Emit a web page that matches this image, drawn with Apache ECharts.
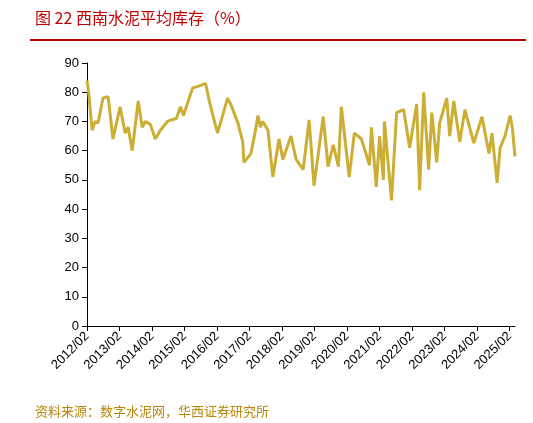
<!DOCTYPE html><html><head><meta charset="utf-8"><script src="https://cdn.jsdelivr.net/npm/echarts@6/dist/echarts.min.js"></script></head><body style="margin:0"><div id="c" style="width:533px;height:423px"></div><script>
var months=[0,0.6,1.9,3,4.1,5.9,7.8,8.6,9.6,12.2,14.1,15.2,16.7,18.9,20.4,21.5,23.4,25.2,27.1,29.7,31,33,34.5,35.6,39,41,43.8,44.9,46.5,48.2,51.9,53,55.7,57.5,57.9,60.5,62,63.1,64,64.9,66.8,68.6,70.9,72.3,75.3,77.2,79.8,82,83.8,87.2,89,90.9,92.8,93.9,96.8,98.7,101.3,104.3,105,106.8,108,109.4,109.8,112.4,114.3,116.9,119.1,121.7,122.8,124.3,126.1,127.3,129.1,130.2,132.8,133.9,135.4,137.6,139.5,142.8,145.8,148.4,149.5,151.4,152.5,154.3,156.2,157,158];
var values=[84,80,67,70,69.5,78,78.5,72,64,75,66,68,60,77,68,70,69,64,67,70,70.5,71,75,72,81.5,82,83,78,72,66,78,76,69.5,63,56,59,66,72,68,70,67,51,64,57,65,57,53.5,70.5,48,71.6,54.5,62,54.5,75,51,66,64,55,68,47.6,65,50,70,43,73,74,61,76,46.5,80,53.5,73,56,69.5,78,65,77,63,74,62.6,71.6,59,66,49,61,65,72,68,58];
var yTicks=[0,10,20,30,40,50,60,70,80,90];
var data=months.map(function(m,i){return [m,values[i]];});
var ch=echarts.init(document.getElementById('c'));
ch.setOption({
 title:[{text:'图 22 西南水泥平均库存（%）',left:30,top:5,textStyle:{color:'#C00000',fontSize:16,fontWeight:'normal',fontFamily:'Noto Sans CJK SC'}},
  {text:'资料来源：数字水泥网，华西证券研究所',left:30,top:400,textStyle:{color:'#B8860B',fontSize:13,fontWeight:'normal',fontFamily:'Noto Sans CJK SC'}}],
 graphic:[{type:'line',shape:{x1:30,y1:40,x2:526,y2:40},style:{stroke:'#C00000',lineWidth:2}}],
 grid:{left:87,right:18,top:63,bottom:97},
 xAxis:{type:'value',min:0,max:158,interval:12,splitLine:{show:false},
  axisLine:{show:true,lineStyle:{color:'#000'}},axisTick:{show:true,lineStyle:{color:'#000'}},
  axisLabel:{rotate:45,showMaxLabel:false,color:'#000',fontSize:13,fontFamily:'Arial',formatter:function(v){return (2012+v/12)+'/02';}}},
 yAxis:{type:'value',min:0,max:90,interval:10,splitLine:{show:false},
  axisLine:{show:true,lineStyle:{color:'#000'}},axisTick:{show:true,lineStyle:{color:'#000'}},
  axisLabel:{color:'#000',fontSize:13,fontFamily:'Arial',formatter:function(v){return yTicks.indexOf(v)>=0?v:'';}}},
 series:[{type:'line',data:data,showSymbol:false,lineStyle:{color:'#CDAE35',width:3},animation:false}]
});
</script></body></html>
